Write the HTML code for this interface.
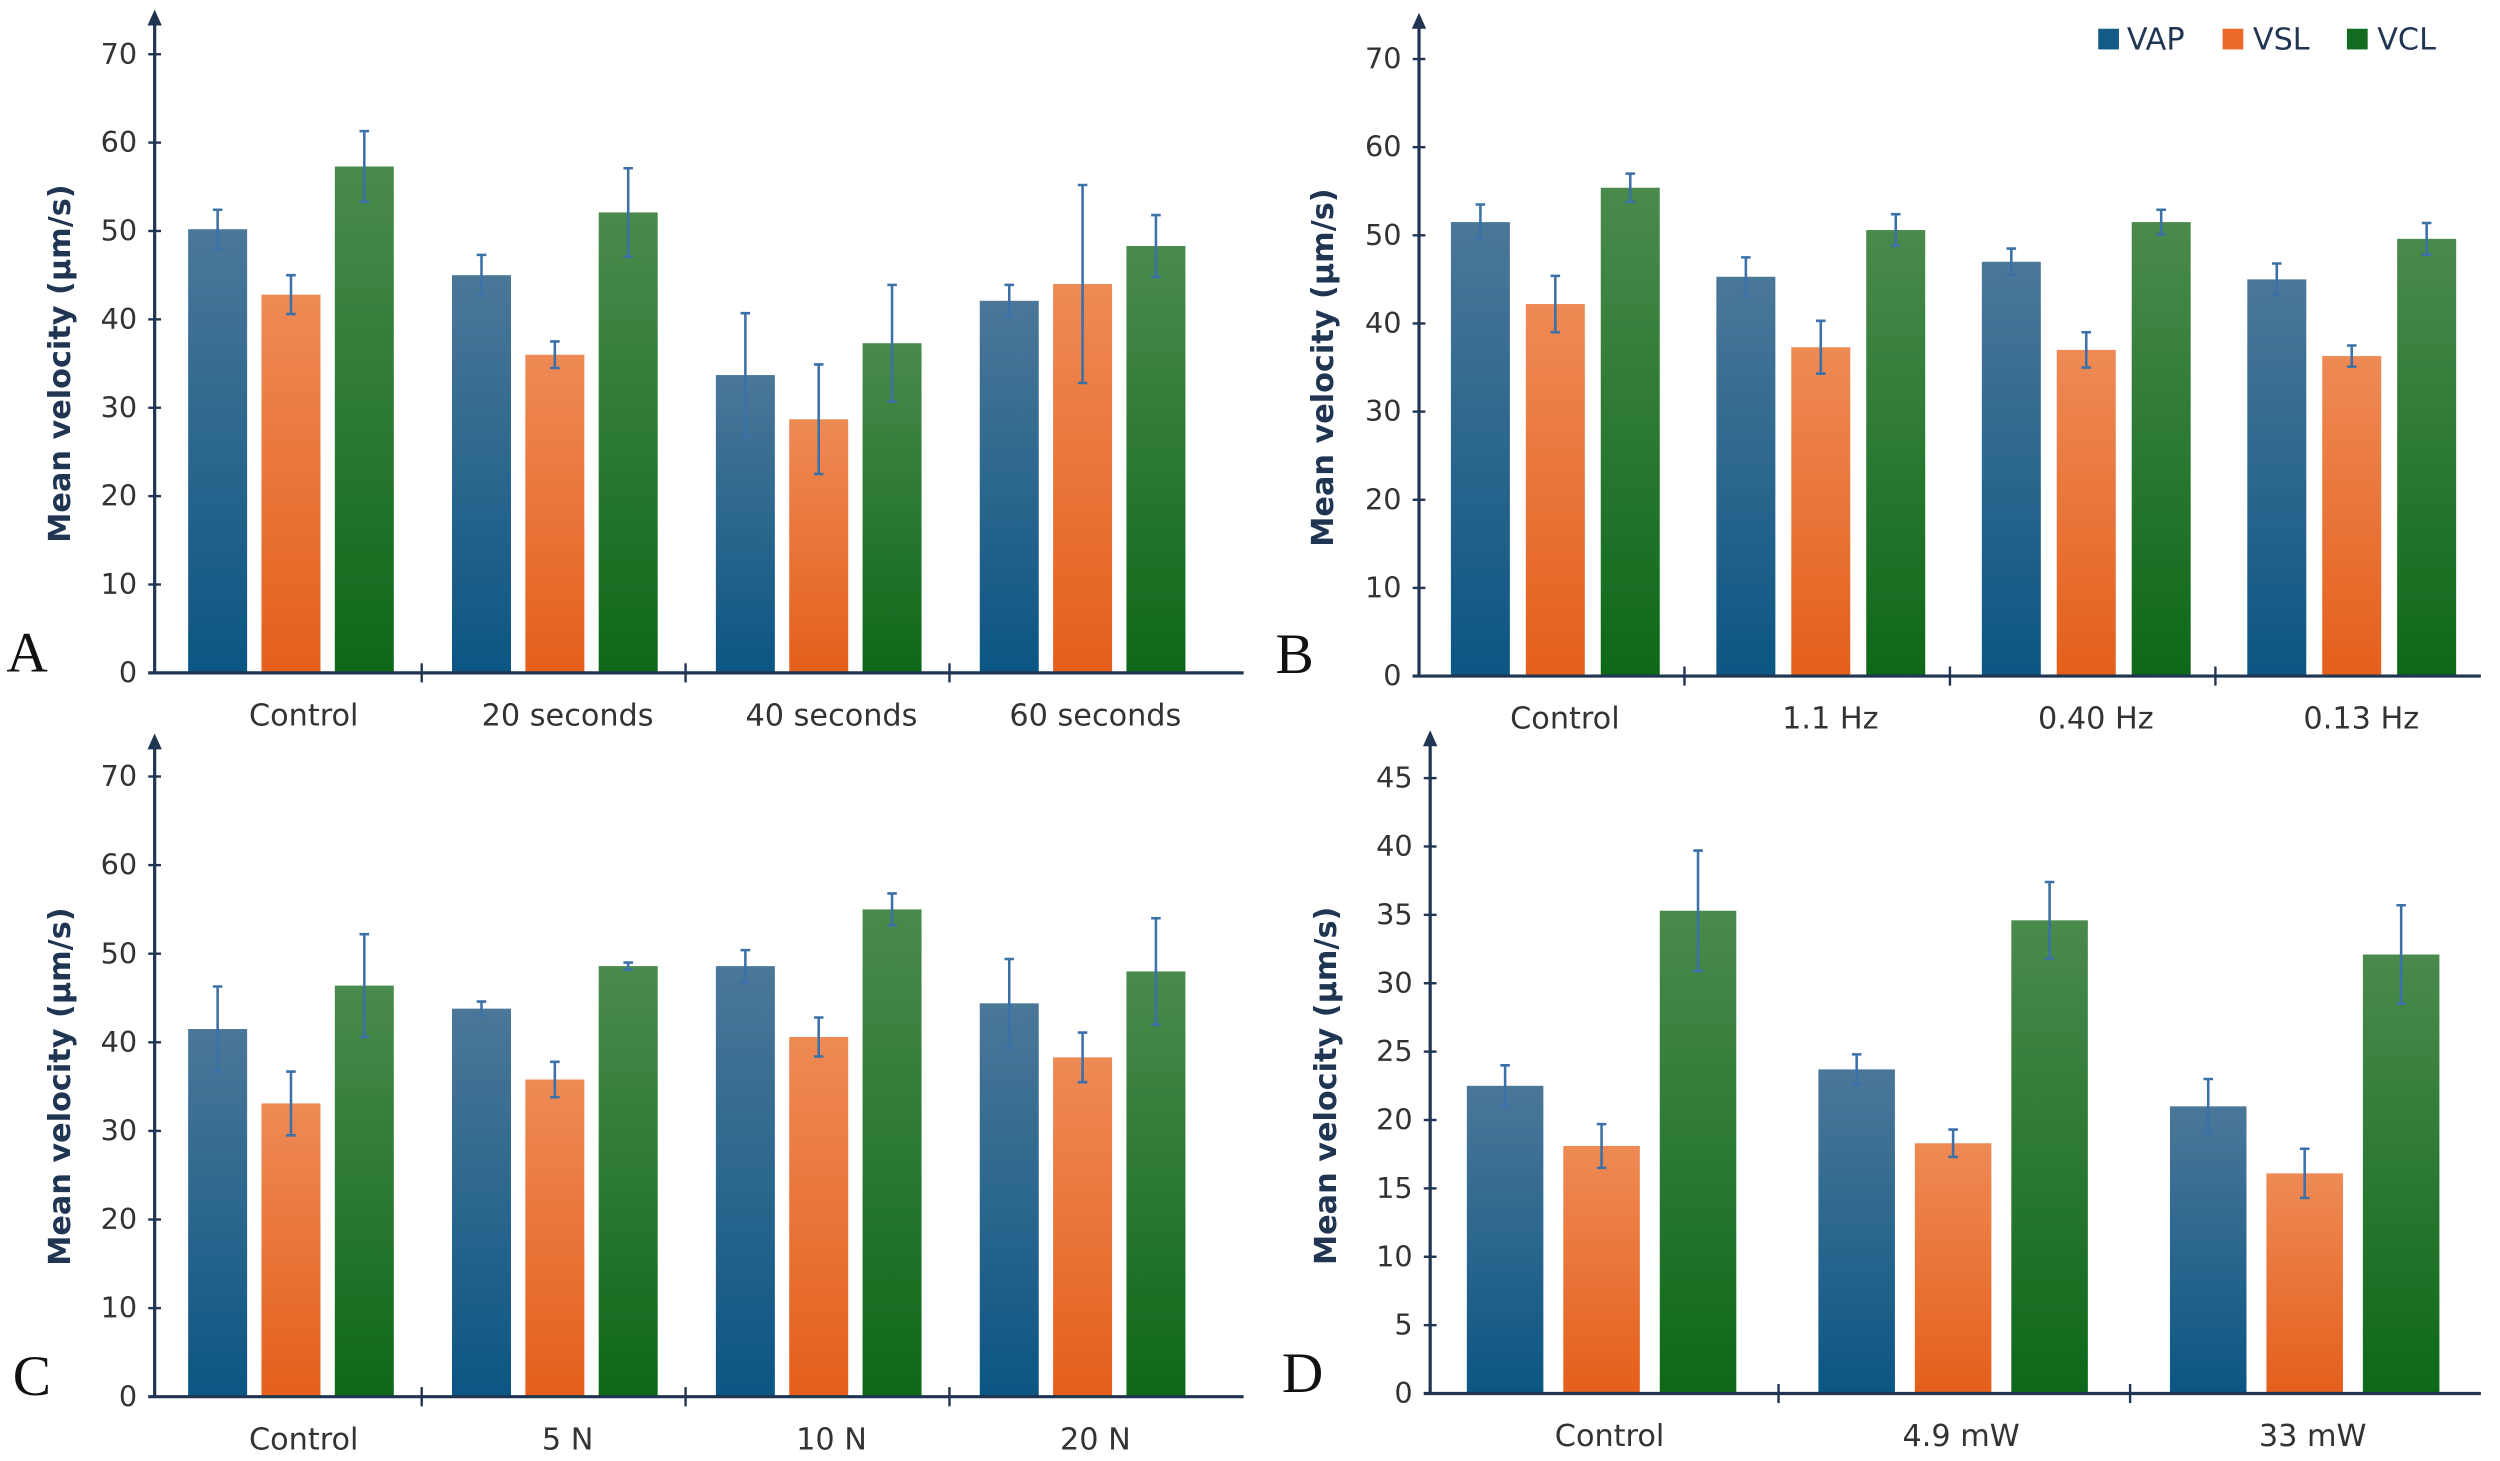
<!DOCTYPE html>
<html><head><meta charset="utf-8">
<style>
html,body{margin:0;padding:0;background:#fff;}
svg{display:block;}
text{font-family:"DejaVu Sans","Liberation Sans",sans-serif;}
</style></head>
<body>
<svg id="fig" xmlns="http://www.w3.org/2000/svg" width="2500" height="1461" viewBox="0 0 1568 916.3">
<defs>
<linearGradient id="gVAP" x1="0" y1="0" x2="0" y2="1"><stop offset="0" stop-color="#4b7798"/><stop offset="1" stop-color="#0b5683"/></linearGradient>
<linearGradient id="gVSL" x1="0" y1="0" x2="0" y2="1"><stop offset="0" stop-color="#ee8a55"/><stop offset="1" stop-color="#e45f1b"/></linearGradient>
<linearGradient id="gVCL" x1="0" y1="0" x2="0" y2="1"><stop offset="0" stop-color="#4a8a4c"/><stop offset="1" stop-color="#0d6818"/></linearGradient>
</defs>
<g>
<rect x="1316" y="18" width="13" height="13" fill="#125b87"/>
<text x="1334" y="31" font-size="19" fill="#1f3552">VAP</text>
<rect x="1394" y="18" width="13" height="13" fill="#eb6a28"/>
<text x="1413" y="31" font-size="19" fill="#1f3552">VSL</text>
<rect x="1472" y="18" width="13" height="13" fill="#126b1f"/>
<text x="1491" y="31" font-size="19" fill="#1f3552">VCL</text>
</g>
</svg>
<script>
// Panel A
const catsA = ["Control","20 seconds","40 seconds","60 seconds"];
const vapA = [50.2,45.0,33.7,42.1];
const vapErrA = [2.2,2.3,7.0,1.8];
const vslA = [42.8,36.0,28.7,44.0];
const vslErrA = [2.2,1.5,6.2,11.2];
const vclA = [57.3,52.1,37.3,48.3];
const vclErrA = [4.0,5.0,6.6,3.5];
const ticksA = [0,10,20,30,40,50,60,70];
// Panel B
const catsB = ["Control","1.1 Hz","0.40 Hz","0.13 Hz"];
const vapB = [51.5,45.3,47.0,45.0];
const vapErrB = [2.0,2.2,1.5,1.8];
const vslB = [42.2,37.3,37.0,36.3];
const vslErrB = [3.2,3.0,2.0,1.2];
const vclB = [55.4,50.6,51.5,49.6];
const vclErrB = [1.6,1.8,1.4,1.8];
const ticksB = [0,10,20,30,40,50,60,70];
// Panel C
const catsC = ["Control","5 N","10 N","20 N"];
const vapC = [41.5,43.8,48.6,44.4];
const vapErrC = [4.8,0.8,1.8,5.0];
const vslC = [33.1,35.8,40.6,38.3];
const vslErrC = [3.6,2.0,2.2,2.8];
const vclC = [46.4,48.6,55.0,48.0];
const vclErrC = [5.8,0.4,1.8,6.0];
const ticksC = [0,10,20,30,40,50,60,70];
// Panel D
const catsD = ["Control","4.9 mW","33 mW"];
const vapD = [22.5,23.7,21.0];
const vapErrD = [1.5,1.1,2.0];
const vslD = [18.1,18.3,16.1];
const vslErrD = [1.6,1.0,1.8];
const vclD = [35.3,34.6,32.1];
const vclErrD = [4.4,2.8,3.6];
const ticksD = [0,5,10,15,20,25,30,35,40,45];

const NS="http://www.w3.org/2000/svg";
const svg=document.getElementById('fig');
function mk(tag,attrs,parent){const e=document.createElementNS(NS,tag);for(const k in attrs)e.setAttribute(k,attrs[k]);parent.appendChild(e);return e;}
const AX="#1f3552";

function panel(p){
  const g=mk('g',{},svg);
  
  
  const maxT=p.ticks[p.ticks.length-1];
  const y=v=>p.y0-(v/maxT)*(p.y0-p.yTop);
  const series=[[p.vap,p.vapErr,'url(#gVAP)','vap'],[p.vsl,p.vslErr,'url(#gVSL)','vsl'],[p.vcl,p.vclErr,'url(#gVCL)','vcl']];
  p.cats.forEach((c,i)=>{
    const gs=p.x0+i*p.gw;
    series.forEach((s,j)=>{
      const bx=gs+p.off+j*p.step;
      const r=mk('rect',{x:bx,y:y(s[0][i]),width:p.bw,height:p.y0-y(s[0][i]),fill:s[2]},g);
      
      
      const cx=bx+p.bw/2, hi=y(s[0][i]+s[1][i]), lo=y(s[0][i]-s[1][i]);
      const eb=mk('path',{d:`M${cx},${hi}V${lo}M${cx-3},${hi}H${cx+3}M${cx-3},${lo}H${cx+3}`,stroke:'#3b70a8','stroke-width':1.6,fill:'none'},g);
      
      
    });
    const lx=gs+p.off+(2*p.step+p.bw)/2+p.ls;
    const t=mk('text',{x:lx,y:p.y0+33,'font-size':19,fill:'#333','text-anchor':'middle'},g);
    t.textContent=c;
    
    
    if(i>0){
      const sp=mk('line',{x1:gs,x2:gs,y1:p.y0-6,y2:p.y0+6,stroke:AX,'stroke-width':1.5},g);
      
      
    }
  });
  const xa=mk('line',{x1:p.ax-4,x2:p.xEnd,y1:p.y0,y2:p.y0,stroke:AX,'stroke-width':2},g);
  
  
  const ya=mk('line',{x1:p.ax,x2:p.ax,y1:p.y0,y2:p.arrow+6,stroke:AX,'stroke-width':2},g);
  
  
  const ar=mk('path',{d:`M${p.ax-4.5},${p.arrow+10}L${p.ax},${p.arrow}L${p.ax+4.5},${p.arrow+10}Z`,fill:AX},g);
  
  
  p.ticks.forEach(v=>{
    const tk=mk('line',{x1:p.ax-4,x2:p.ax+4,y1:y(v),y2:y(v),stroke:AX,'stroke-width':1.5},g);
    
    
    const tl=mk('text',{x:p.ax-11,y:y(v)+6,'font-size':18,fill:'#333','text-anchor':'end'},g);
    tl.textContent=v;
    
    
  });
  const ty=(p.y0+p.yTop)/2;
  const tt=mk('text',{x:p.titleX,y:ty,'font-size':19,'font-weight':'bold',fill:'#1f3552','text-anchor':'middle',transform:`rotate(-90 ${p.titleX} ${ty})`},g);
  tt.textContent='Mean velocity (µm/s)';
  
  
  const L=mk('text',{x:p.lx,y:p.ly,'font-size':36,fill:'#111',style:'font-family:"Liberation Serif",serif'},g);
  L.textContent=p.letter;
  
  
}

panel({letter:'A',cats:catsA,vap:vapA,vapErr:vapErrA,vsl:vslA,vslErr:vslErrA,vcl:vclA,vclErr:vclErrA,ticks:ticksA,
  ax:97,y0:422,yTop:34,arrow:6,xEnd:780,x0:99,gw:165.5,off:19,step:46,bw:37,titleX:44,lx:4,ly:421,ls:8});
panel({letter:'B',cats:catsB,vap:vapB,vapErr:vapErrB,vsl:vslB,vslErr:vslErrB,vcl:vclB,vclErr:vclErrB,ticks:ticksB,
  ax:890,y0:424,yTop:37,arrow:8,xEnd:1556,x0:890,gw:166.5,off:20,step:47,bw:37,titleX:836,lx:800,ly:422,ls:6});
panel({letter:'C',cats:catsC,vap:vapC,vapErr:vapErrC,vsl:vslC,vslErr:vslErrC,vcl:vclC,vclErr:vclErrC,ticks:ticksC,
  ax:97,y0:876,yTop:487,arrow:460,xEnd:780,x0:99,gw:165.5,off:19,step:46,bw:37,titleX:44,lx:8,ly:875,ls:8});
panel({letter:'D',cats:catsD,vap:vapD,vapErr:vapErrD,vsl:vslD,vslErr:vslErrD,vcl:vclD,vclErr:vclErrD,ticks:ticksD,
  ax:897,y0:874,yTop:488,arrow:458,xEnd:1556,x0:895,gw:220.5,off:25,step:60.5,bw:48,titleX:838,lx:804,ly:873,ls:5});
</script>
</body></html>
